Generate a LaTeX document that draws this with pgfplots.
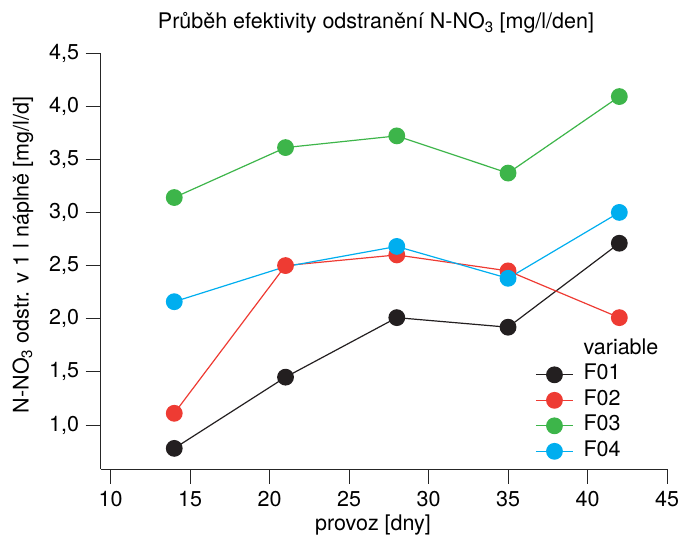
\documentclass[border=0pt]{standalone}
\usepackage{fontspec}
\setmainfont{TeX Gyre Heros}
\usepackage{pgfplots}
\pgfplotsset{compat=1.18}
\definecolor{c1}{HTML}{231F20}
\definecolor{c2}{HTML}{EE3B33}
\definecolor{c3}{HTML}{3DB54A}
\definecolor{c4}{HTML}{00AEEF}

\begin{document}
\begin{tikzpicture}[x=1bp,y=1bp]
\path[use as bounding box] (0,0) rectangle (681,538);
\begin{axis}[
    at={(100.5bp,69bp)}, anchor=south west,
    scale only axis, width=566.5bp, height=416bp,
    xmin=9.36, xmax=45, ymin=0.586, ymax=4.5,
    axis x line*=bottom, axis y line*=left,
    axis line style={line width=0.8bp, black!85, -},
    xtick={10,15,...,45}, ytick={1,1.5,...,4.5},
    tick align=outside, major tick length=15bp,
    tick style={line width=0.8bp, black!85},
    font=\fontsize{21.5bp}{25bp}\selectfont,
    /pgf/number format/assume math mode=true,
    xticklabel style={yshift=-3.5bp},
    yticklabel style={xshift=-3bp, /pgf/number format/.cd, use comma, fixed, fixed zerofill, precision=1},
    clip=false,
    every axis plot/.append style={line width=1.2bp, mark=*, mark size=7.8bp},
    legend style={at={(0.762,0.317)}, anchor=north west, draw=none, fill=none,
        row sep=5.5bp, column sep=10bp,
        nodes={inner sep=0pt, text height=15bp, text depth=5bp}},
    legend cell align=left,
    legend image code/.code={\draw[mark repeat=2,mark phase=2] plot coordinates {(0bp,0bp)(18.5bp,0bp)(37bp,0bp)};},
]
\addlegendimage{empty legend}\addlegendentry{variable}
\addplot[c1, mark options={fill=c1, draw=c1}] coordinates {(14,0.78) (21,1.45) (28,2.01) (35,1.92) (42,2.71)};
\addlegendentry{F01}
\addplot[c2, mark options={fill=c2, draw=c2}] coordinates {(14,1.11) (21,2.50) (28,2.60) (35,2.45) (42,2.01)};
\addlegendentry{F02}
\addplot[c3, mark options={fill=c3, draw=c3}] coordinates {(14,3.14) (21,3.61) (28,3.72) (35,3.37) (42,4.09)};
\addlegendentry{F03}
\addplot[c4, mark options={fill=c4, draw=c4}, mark indices={1,3,4,5}, forget plot] coordinates {(14,2.16) (21,2.49) (28,2.68) (35,2.38) (42,3.00)};
\addlegendimage{c4, line width=1.2bp, mark=*, mark size=7.8bp, mark options={fill=c4, draw=c4}}
\addlegendentry{F04}
\end{axis}
\node[anchor=base, font=\fontsize{21.5bp}{25bp}\selectfont] at (376,509) {Průběh efektivity odstranění N-NO\textsubscript{3} [mg/l/den]};
\node[anchor=base, font=\fontsize{21.5bp}{25bp}\selectfont] at (373,7) {provoz [dny]};
\node[anchor=base, rotate=90, font=\fontsize{21.5bp}{25bp}\selectfont] at (28.5,283) {N-NO\textsubscript{3} odstr. v 1 l náplně [mg/l/d]};
\end{tikzpicture}
\end{document}
